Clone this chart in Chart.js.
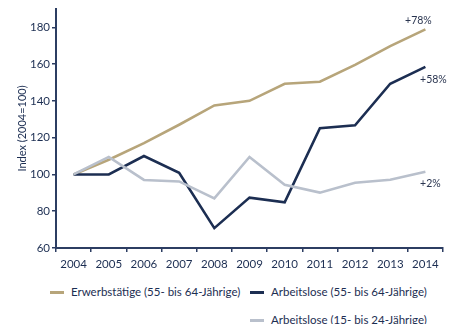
<!DOCTYPE html>
<html><head><meta charset="utf-8">
<script src="https://cdn.jsdelivr.net/npm/chart.js@4"></script>
<style>
html,body{margin:0;padding:0;background:#fff;}
#wrap{position:relative;width:460px;height:324px;font-family:Lato,"Open Sans",sans-serif;}
#cv{position:absolute;left:0;top:0;}
.lg{position:absolute;font-size:11.5px;color:#1c2e52;white-space:nowrap;line-height:14px;}
.lg span.sw{display:inline-block;width:14px;height:3px;vertical-align:middle;margin-right:7px;position:relative;top:-1px;}
</style></head>
<body><div id="wrap"><canvas id="cv" width="460" height="275"></canvas><div id="legend"></div></div>
<script>
const years = ['2004','2005','2006','2007','2008','2009','2010','2011','2012','2013','2014'];
const erwerbstaetige = [100,108,117,127,137.5,140,149.3,150.4,159.6,169.8,178.9];
const arbeitslose5564 = [100,100,110,100.9,70.8,87.4,84.8,125.1,126.7,149.3,158.5];
const arbeitslose1524 = [100,109.5,97,96.2,87,109.5,94.4,90.1,95.5,97.1,101.4];
const seriesNames = ['Erwerbstätige (55- bis 64-Jährige)','Arbeitslose (55- bis 64-Jährige)','Arbeitslose (15- bis 24-Jährige)'];
const endLabels = ['+78%','+58%','+2%'];
const yTicks = [60,80,100,120,140,160,180];
const colors = ['#b7a57a','#1c2e52','#b9c0cc'];
const axisColor = '#2c3d62';
const textColor = '#1c2e52';
const font = 'Lato, "Open Sans", sans-serif';

const endLabelPlugin = {
  id:'endLabels',
  afterDatasetsDraw(chart){
    const ctx = chart.ctx;
    const offs = [[-7,-9],[8,13],[5,12]];
    ctx.save();
    ctx.font = '10.5px ' + font;
    ctx.fillStyle = '#2a3550';
    ctx.textAlign='center';ctx.textBaseline='middle';
    chart.data.datasets.forEach((ds,i)=>{
      const k = ds.seriesIndex;
      const meta = chart.getDatasetMeta(i);
      const p = meta.data[meta.data.length-1];
      ctx.fillText(endLabels[k], p.x+offs[k][0], p.y+offs[k][1]);
    });
    ctx.restore();
  }
};

new Chart(document.getElementById('cv'),{
  type:'line',
  data:{labels:years,datasets:[
    {label:seriesNames[0],data:erwerbstaetige,borderColor:colors[0],seriesIndex:0},
    {label:seriesNames[1],data:arbeitslose5564,borderColor:colors[1],seriesIndex:1},
    {label:seriesNames[2],data:arbeitslose1524,borderColor:colors[2],seriesIndex:2}
  ].reverse()},
  options:{
    responsive:false,animation:false,
    layout:{padding:{left:0,right:17,top:6,bottom:0}},
    elements:{line:{borderWidth:2.6,tension:0,borderCapStyle:'butt',borderJoinStyle:'miter'},point:{radius:0}},
    plugins:{legend:{display:false},tooltip:{enabled:false}},
    scales:{
      x:{
        offset:true,
        grid:{display:true,drawOnChartArea:false,offset:true,tickLength:4,tickColor:axisColor,lineWidth:1.5},
        border:{color:axisColor,width:2},
        ticks:{color:textColor,font:{family:font,size:11.5},padding:5,maxRotation:0,autoSkip:false},
        afterFit(s){s.height=27;}
      },
      y:{
        min:60,max:190,
        afterBuildTicks(s){s.ticks = yTicks.map(v=>({value:v}));},
        grid:{display:true,drawOnChartArea:false,tickLength:4,tickColor:axisColor,lineWidth:1.5},
        border:{color:axisColor,width:2},
        ticks:{color:textColor,font:{family:font,size:11.5},padding:2},
        title:{display:true,text:'Index (2004=100)',color:textColor,font:{family:font,size:11},padding:{top:16,bottom:0}},
        afterFit(s){s.width=56;}
      }
    }
  },
  plugins:[endLabelPlugin]
});

// legend
const lg = document.getElementById('legend');
const pos = [[50,285],[250,285],[250,313]];
seriesNames.forEach((n,i)=>{
  const d = document.createElement('div');
  d.className='lg';
  d.style.left=pos[i][0]+'px';d.style.top=pos[i][1]+'px';
  d.innerHTML='<span class="sw" style="background:'+colors[i]+'"></span>'+n;
  lg.appendChild(d);
});
</script></body></html>
